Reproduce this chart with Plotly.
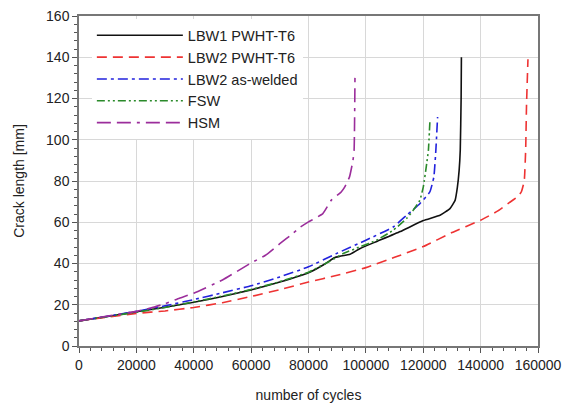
import plotly.graph_objects as go

# LBW1 PWHT-T6
lbw1_x = [0, 10000, 20000, 30000, 40000, 50000, 60000, 70000, 80000, 86000, 89000, 91000, 94500, 98000,
          104000, 112000, 120000, 126000, 129300, 131100, 131900, 132500, 132900, 133200, 133300]
lbw1_y = [12.2, 14.3, 16.6, 18.8, 21.2, 24.0, 27.2, 31.0, 35.5, 40.0, 42.8, 43.5, 44.5, 47.3,
          50.8, 55.5, 60.8, 63.5, 66.6, 70.6, 77.0, 85.0, 95.0, 120.0, 140.0]

# LBW2 PWHT-T6
lbw2t6_x = [0, 10000, 20000, 30000, 40000, 50000, 60000, 70000, 80000, 90000, 100000, 110000, 120000,
            130000, 140000, 146000, 150000, 153000, 154200, 155200, 155700, 156000, 156500]
lbw2t6_y = [12.2, 14.0, 15.8, 17.0, 18.7, 21.0, 24.0, 27.3, 31.0, 34.3, 38.0, 43.0, 48.2,
            55.0, 61.0, 65.5, 69.5, 72.5, 74.8, 80.0, 95.0, 117.0, 139.0]

# LBW2 as-welded
lbw2aw_x = [0, 10000, 20000, 30000, 40000, 50000, 60000, 70000, 80000, 89700, 100000, 109500,
            114200, 118800, 122300, 123700, 124400, 125000]
lbw2aw_y = [12.2, 14.4, 16.8, 19.5, 22.5, 25.8, 29.2, 33.5, 38.4, 44.8, 51.3, 57.7,
            63.4, 69.0, 74.7, 82.0, 95.0, 111.0]

# FSW
fsw_x = [0, 10000, 20000, 30000, 40000, 50000, 60000, 70000, 80000, 87300, 92000, 97800, 103700,
         109500, 114200, 116500, 118800, 120000, 121200, 121800, 122300]
fsw_y = [12.2, 14.3, 16.4, 18.7, 21.4, 24.2, 27.4, 31.2, 35.8, 41.0, 44.8, 48.0, 51.3,
         56.1, 61.8, 65.8, 70.6, 77.0, 88.4, 95.0, 108.5]

# HSM
hsm_x = [0, 10000, 20000, 25000, 30000, 35000, 40000, 50000, 60000, 65000, 70000, 74500, 77000,
         80000, 85000, 87900, 91400, 92600, 94300, 95500, 95900, 96200]
hsm_y = [12.2, 14.5, 16.8, 18.4, 20.5, 23.2, 25.6, 32.0, 40.3, 44.0, 49.6, 54.5, 57.5,
         60.2, 64.2, 70.6, 74.7, 77.0, 82.0, 90.0, 95.0, 130.0]

series = [
    ("LBW1 PWHT-T6", lbw1_x, lbw1_y, "#111111", "solid"),
    ("LBW2 PWHT-T6", lbw2t6_x, lbw2t6_y, "#ee3333", "10px,6px"),
    ("LBW2 as-welded", lbw2aw_x, lbw2aw_y, "#2222dd", "10px,4px,3px,4px"),
    ("FSW", fsw_x, fsw_y, "#2a8a2a", "8px,3px,2px,3px,2px,3px"),
    ("HSM", hsm_x, hsm_y, "#9b2d9b", "14px,6px,14px,6px,3px,6px"),
]

x_ticks = [0, 20000, 40000, 60000, 80000, 100000, 120000, 140000, 160000]
y_ticks = [0, 20, 40, 60, 80, 100, 120, 140, 160]

fig = go.Figure()
for name, xs, ys, color, dash in series:
    fig.add_trace(go.Scatter(x=xs, y=ys, mode="lines", name=name,
                             line=dict(color=color, width=1.6, dash=dash, shape="spline", smoothing=0.4)))

font_family = "Arial, Liberation Sans, sans-serif"
fig.update_layout(
    width=569, height=403,
    margin=dict(l=79, r=31, t=16, b=57),
    paper_bgcolor="white", plot_bgcolor="white",
    font=dict(family=font_family, size=14, color="#222"),
    legend=dict(x=0.028, y=0.99, xanchor="left", yanchor="top",
                bgcolor="white", borderwidth=0, font=dict(size=14.5, color="#222"),
                itemwidth=86, tracegroupgap=0),
    showlegend=True,
)
fig.update_xaxes(
    range=[0, 160000], tickvals=x_ticks, ticktext=[str(v) for v in x_ticks],
    showgrid=True, gridcolor="#d8d8d8", gridwidth=1,
    showline=True, linecolor="#777", linewidth=1.5, mirror=True,
    ticks="outside", ticklen=5, tickcolor="#555",
    minor=dict(dtick=4000, ticks="outside", ticklen=3, tickcolor="#555", showgrid=False),
    title=dict(text="number of cycles", standoff=28, font=dict(size=14)),
    zeroline=False, automargin=False,
)
fig.update_yaxes(
    range=[0, 160], tickvals=y_ticks, ticktext=[str(v) for v in y_ticks],
    showgrid=True, gridcolor="#d8d8d8", gridwidth=1,
    showline=True, linecolor="#777", linewidth=1.5, mirror=True,
    ticks="outside", ticklen=5, tickcolor="#555",
    minor=dict(dtick=4, ticks="outside", ticklen=3, tickcolor="#555", showgrid=False),
    title=dict(text="Crack length [mm]", standoff=18, font=dict(size=14)),
    zeroline=False, automargin=False,
)
fig.write_html("out.html")
